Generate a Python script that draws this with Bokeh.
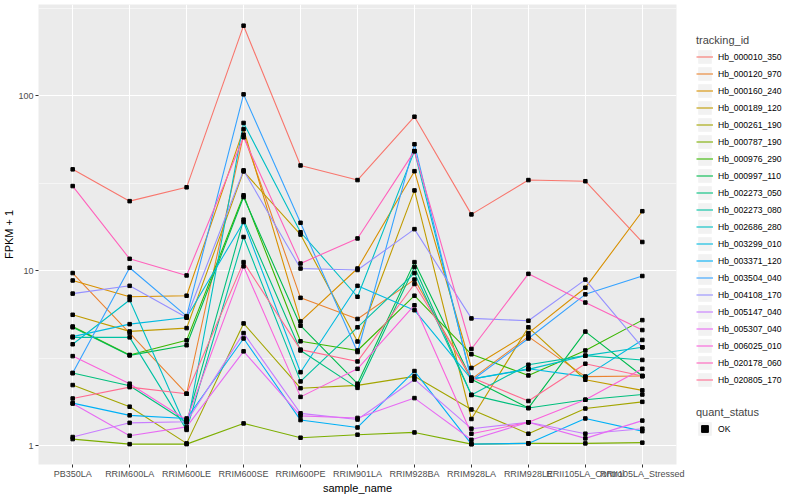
from bokeh.plotting import figure
from bokeh.layouts import row
from bokeh.models import FactorRange, Range1d, FixedTicker, Legend, LegendItem
from bokeh.embed import file_html
from bokeh.resources import INLINE

samples = ["PB350LA", "RRIM600LA", "RRIM600LE", "RRIM600SE", "RRIM600PE", "RRIM901LA",
           "RRIM928BA", "RRIM928LA", "RRIM928LE", "RRII105LA_Control", "RRII105LA_Stressed"]

tracking_ids = ["Hb_000010_350", "Hb_000120_970", "Hb_000160_240", "Hb_000189_120", "Hb_000261_190",
                "Hb_000787_190", "Hb_000976_290", "Hb_000997_110", "Hb_002273_050", "Hb_002273_080",
                "Hb_002686_280", "Hb_003299_010", "Hb_003371_120", "Hb_003504_040", "Hb_004108_170",
                "Hb_005147_040", "Hb_005307_040", "Hb_006025_010", "Hb_020178_060", "Hb_020805_170"]

series_colors = ["#F8766D", "#EA8331", "#D89000", "#C09B00", "#A3A500", "#7CAE00", "#39B600", "#00BB4E",
                 "#00BF7D", "#00C1A3", "#00BFC4", "#00BAE0", "#00B0F6", "#35A2FF", "#9590FF", "#C77CFF",
                 "#E76BF3", "#FA62DB", "#FF62BC", "#FF6C91"]

hb_000010_350 = [38, 25, 30, 252, 40, 33, 76, 21, 33, 32.5, 14.6]
hb_000120_970 = [9.7, 4.4, 1.98, 60, 7.0, 5.3, 8.9, 2.4, 4.2, 2.48, 2.5]
hb_000160_240 = [8.8, 7.1, 7.2, 64.5, 5.13, 10.3, 37.1, 2.78, 4.4, 8.0, 21.9]
hb_000189_120 = [5.6, 4.5, 4.7, 37, 16.1, 3.94, 28.8, 1.42, 4.75, 2.38, 2.07]
hb_000261_190 = [2.22, 1.67, 1.03, 5.0, 2.13, 2.21, 2.49, 1.61, 1.17, 1.63, 1.78]
hb_000787_190 = [1.09, 1.02, 1.02, 1.34, 1.11, 1.155, 1.19, 1.02, 1.03, 1.03, 1.04]
hb_000976_290 = [4.8, 3.3, 4.0, 27, 3.95, 3.5, 7.2, 3.33, 2.52, 3.5, 5.22]
hb_000997_110 = [4.75, 3.28, 3.75, 26.4, 4.85, 2.26, 11.2, 2.4, 1.64, 4.49, 2.5]
hb_002273_050 = [2.6, 2.2, 1.36, 19.6, 3.5, 2.14, 10.5, 1.95, 1.64, 1.83, 1.96]
hb_002273_080 = [4.16, 4.16, 1.23, 15.6, 2.33, 4.75, 9.7, 1.95, 2.9, 3.27, 3.09]
hb_002686_280 = [3.8, 6.8, 1.25, 70, 16.6, 7.1, 48.3, 2.4, 2.73, 3.27, 3.65]
hb_003299_010 = [4.2, 4.95, 5.4, 19.0, 2.63, 8.2, 5.95, 2.4, 2.75, 2.48, 4.02]
hb_003371_120 = [1.75, 1.49, 1.43, 4.1, 1.40, 1.27, 2.67, 1.02, 1.03, 1.43, 1.21]
hb_003504_040 = [2.6, 10.4, 5.5, 102, 18.8, 3.43, 52.9, 2.35, 4.1, 7.33, 9.33]
hb_004108_170 = [7.4, 8.2, 5.4, 37.5, 10.3, 10.1, 17.3, 5.34, 5.18, 8.9, 3.65]
hb_005147_040 = [1.12, 1.35, 1.37, 4.4, 1.53, 1.41, 2.39, 1.25, 1.36, 1.17, 1.25]
hb_005307_040 = [1.74, 1.14, 1.28, 3.46, 1.48, 1.44, 1.87, 1.08, 1.36, 1.1, 1.39]
hb_006025_010 = [3.25, 2.26, 1.4, 10.6, 1.90, 2.75, 6.35, 1.17, 1.36, 1.83, 2.75]
hb_020178_060 = [30.5, 11.7, 9.4, 58, 11.0, 15.3, 48.3, 3.57, 9.6, 6.58, 4.58]
hb_020805_170 = [1.86, 2.16, 1.98, 11.2, 3.54, 3.03, 8.4, 2.45, 1.8, 2.94, 2.5]

series_values = [hb_000010_350, hb_000120_970, hb_000160_240, hb_000189_120, hb_000261_190,
                 hb_000787_190, hb_000976_290, hb_000997_110, hb_002273_050, hb_002273_080,
                 hb_002686_280, hb_003299_010, hb_003371_120, hb_003504_040, hb_004108_170,
                 hb_005147_040, hb_005307_040, hb_006025_010, hb_020178_060, hb_020805_170]

y_ticks = [1, 10, 100]
y_minor = [3.1623, 31.623, 316.23]

FONT = "Liberation Sans"
H = 496

p = figure(width=689, height=H,
           x_range=FactorRange(factors=samples, range_padding=0.1, range_padding_units="absolute"),
           y_range=Range1d(0.78, 333), y_axis_type="log",
           output_backend="svg", toolbar_location=None,
           min_border_left=34, min_border_right=13, min_border_top=4, min_border_bottom=24)

p.background_fill_color = "#EBEBEB"
p.border_fill_color = "white"
p.outline_line_color = None

p.yaxis.ticker = FixedTicker(ticks=y_ticks, minor_ticks=y_minor)
p.yaxis.major_label_overrides = {t: str(t) for t in y_ticks}

p.xgrid.grid_line_color = "white"
p.xgrid.grid_line_width = 1.1
p.ygrid.grid_line_color = "white"
p.ygrid.grid_line_width = 1.1
p.ygrid.minor_grid_line_color = "white"
p.ygrid.minor_grid_line_width = 0.5

for ax in (p.xaxis, p.yaxis):
    ax.axis_line_color = None
    ax.major_tick_line_color = "#333333"
    ax.major_tick_out = 3
    ax.major_tick_in = 0
    ax.minor_tick_line_color = None
    ax.major_label_text_font = FONT
    ax.major_label_text_font_size = "9px"
    ax.major_label_text_color = "#4D4D4D"
    ax.axis_label_text_font = FONT
    ax.axis_label_text_font_size = "11px"
    ax.axis_label_text_font_style = "normal"
    ax.axis_label_text_color = "black"
    ax.major_label_standoff = 1
    ax.axis_label_standoff = 0

p.xaxis.axis_label = "sample_name"
p.yaxis.axis_label = "FPKM + 1"

for vals, c in zip(series_values, series_colors):
    p.line(x=samples, y=vals, line_color=c, line_width=1.1)

all_x = [s for vals in series_values for s in samples]
all_y = [v for vals in series_values for v in vals]
p.scatter(x=all_x, y=all_y, marker="square", size=3.5, fill_color="black", line_color="black")

# ---- legend panel (separate figure so legends sit outside the plotting panel) ----
lf = figure(width=95, height=H, x_range=Range1d(0, 1), y_range=Range1d(0, 1),
            output_backend="svg", toolbar_location=None,
            x_axis_location=None, y_axis_location=None,
            min_border_left=0, min_border_right=0, min_border_top=0, min_border_bottom=0)
lf.outline_line_color = None
lf.background_fill_color = "white"
lf.border_fill_color = "white"
lf.xgrid.visible = False
lf.ygrid.visible = False

# key swatches and key glyphs (drawn off-range; only their legend keys show)
key_bg = lf.rect(x=[5], y=[5], width=17, height=17, width_units="screen",
                 height_units="screen", fill_color="#F2F2F2", line_color=None)
key_lines = [lf.line(x=[5, 6], y=[5, 6], line_color=c, line_width=1.1) for c in series_colors]
key_pt = lf.scatter(x=[5], y=[5], marker="square", size=3.5, fill_color="black", line_color="black")

legend_style = dict(orientation="vertical", padding=0, margin=0, spacing=0,
                    glyph_height=17, glyph_width=17, label_height=17, label_standoff=5,
                    label_text_font=FONT, label_text_font_size="8.6px", label_text_color="black",
                    title_text_font=FONT, title_text_font_size="11px", title_text_font_style="normal",
                    title_standoff=2, background_fill_alpha=0, border_line_color=None)

leg1 = Legend(items=[LegendItem(label=tid, renderers=[key_bg, r]) for tid, r in zip(tracking_ids, key_lines)],
              title="tracking_id", location=(7, 76), **legend_style)
leg2 = Legend(items=[LegendItem(label="OK", renderers=[key_bg, key_pt])],
              title="quant_status", location=(7, 27), **legend_style)
lf.add_layout(leg1, "center")
lf.add_layout(leg2, "center")

layout = row(p, lf, spacing=0)
open("out.html", "w").write(file_html(layout, INLINE))
